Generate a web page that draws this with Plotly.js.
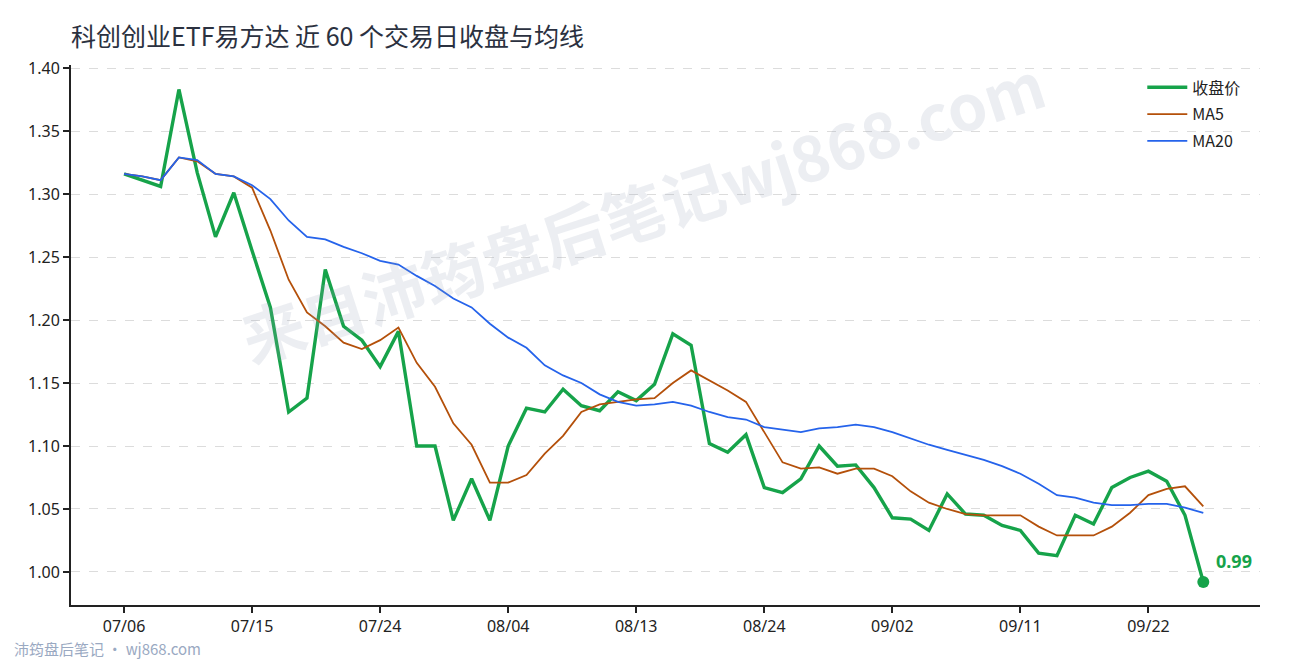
<!DOCTYPE html>
<html>
<head>
<meta charset="utf-8">
<script src="https://cdn.plot.ly/plotly-3.0.1.min.js"></script>
<style>
  html, body { margin: 0; padding: 0; background: #ffffff; }
  #chart { width: 1290px; height: 660px; }
</style>
</head>
<body>
<div id="chart"></div>
<script>
// trading days (MM/DD)
var dates = [
  '07/06','07/07','07/08','07/09','07/10','07/13','07/14','07/15','07/16','07/17',
  '07/20','07/21','07/22','07/23','07/24','07/27','07/28','07/29','07/30','07/31',
  '08/03','08/04','08/05','08/06','08/07','08/10','08/11','08/12','08/13','08/14',
  '08/17','08/18','08/19','08/20','08/21','08/24','08/25','08/26','08/27','08/28',
  '08/31','09/01','09/02','09/03','09/04','09/07','09/08','09/09','09/10','09/11',
  '09/14','09/15','09/16','09/17','09/18','09/21','09/22','09/23','09/24','09/25'
];

var closePrice = [
  1.316, 1.311, 1.306, 1.383, 1.317, 1.266, 1.301, 1.255, 1.210, 1.127,
  1.138, 1.240, 1.195, 1.184, 1.163, 1.191, 1.100, 1.100, 1.041, 1.074,
  1.041, 1.100, 1.130, 1.127, 1.145, 1.132, 1.128, 1.143, 1.136, 1.149,
  1.189, 1.180, 1.102, 1.095, 1.109, 1.067, 1.063, 1.074, 1.100, 1.084,
  1.085, 1.067, 1.043, 1.042, 1.033, 1.062, 1.046, 1.045, 1.037, 1.033,
  1.015, 1.013, 1.045, 1.038, 1.067, 1.075, 1.080, 1.072, 1.045, 0.992
];

var ma5 = [
  1.316, 1.314, 1.311, 1.329, 1.326, 1.316, 1.314, 1.305, 1.271, 1.232,
  1.206, 1.195, 1.182, 1.177, 1.184, 1.194, 1.166, 1.147, 1.118, 1.101,
  1.071, 1.071, 1.077, 1.094, 1.108, 1.127, 1.133, 1.135, 1.137, 1.138,
  1.150, 1.160, 1.152, 1.144, 1.135, 1.111, 1.087, 1.082, 1.083, 1.078,
  1.082, 1.082, 1.076, 1.064, 1.055, 1.050, 1.046, 1.045, 1.045, 1.045,
  1.036, 1.029, 1.029, 1.029, 1.036, 1.047, 1.061, 1.066, 1.068, 1.052
];

var ma20 = [
  1.316, 1.314, 1.311, 1.329, 1.327, 1.316, 1.314, 1.307, 1.296, 1.279,
  1.266, 1.264, 1.258, 1.253, 1.247, 1.244, 1.235, 1.227, 1.217, 1.210,
  1.197, 1.186, 1.178, 1.164, 1.156, 1.150, 1.141, 1.135, 1.132, 1.133,
  1.135, 1.132, 1.127, 1.123, 1.121, 1.115, 1.113, 1.111, 1.114, 1.115,
  1.117, 1.115, 1.111, 1.106, 1.101, 1.097, 1.093, 1.089, 1.084, 1.078,
  1.070, 1.061, 1.059, 1.055, 1.053, 1.053, 1.054, 1.054, 1.051, 1.047
];

var tickDates = ['07/06','07/15','07/24','08/04','08/13','08/24','09/02','09/11','09/22'];

var GREEN = '#16a34a';
var ORANGE = '#b4500a';
var BLUE = '#2563eb';
var FONT = 'Noto Sans, Noto Sans CJK SC, sans-serif';

var lastIdx = dates.length - 1;

var traceClose = {
  x: dates,
  y: closePrice,
  mode: 'lines',
  name: '收盘价',
  legendgroup: 'close',
  line: { color: GREEN, width: 3.4 }
};

var traceMa5 = {
  x: dates,
  y: ma5,
  mode: 'lines',
  name: 'MA5',
  legendgroup: 'ma5',
  line: { color: ORANGE, width: 1.8 }
};

var traceMa20 = {
  x: dates,
  y: ma20,
  mode: 'lines',
  name: 'MA20',
  legendgroup: 'ma20',
  line: { color: BLUE, width: 1.8 }
};

// last close dot
var traceLast = {
  x: [dates[lastIdx]],
  y: [closePrice[lastIdx]],
  mode: 'markers',
  showlegend: false,
  hoverinfo: 'skip',
  marker: { color: GREEN, size: 12 }
};

var layout = {
  width: 1290,
  height: 660,
  margin: { l: 71, r: 30, t: 65, b: 55 },
  paper_bgcolor: '#ffffff',
  plot_bgcolor: '#ffffff',
  font: { family: FONT, size: 16, color: '#222222' },
  title: {
    text: '科创创业ETF易方达 近 60 个交易日收盘与均线',
    x: 0, xref: 'paper', xanchor: 'left',
    y: 0.944, yref: 'container', yanchor: 'middle',
    font: { family: 'Noto Sans CJK SC, sans-serif', size: 25, color: '#2b3140' }
  },
  showlegend: true,
  legend: {
    x: 0.901, y: 0.99, xanchor: 'left', yanchor: 'top',
    bgcolor: 'rgba(0,0,0,0)',
    font: { family: 'Noto Sans CJK SC, sans-serif', size: 16, color: '#222222' },
    tracegroupgap: 3,
    itemwidth: 40
  },
  xaxis: {
    type: 'category',
    categoryorder: 'array',
    categoryarray: dates,
    range: [-2.9, 62.1],
    tickmode: 'array',
    tickvals: tickDates,
    ticktext: tickDates,
    ticks: 'outside',
    ticklen: 6,
    tickwidth: 2,
    tickcolor: '#222222',
    showline: true,
    linecolor: '#222222',
    linewidth: 2,
    showgrid: false,
    zeroline: false,
    tickfont: { size: 16, color: '#222222' }
  },
  yaxis: {
    range: [0.9738, 1.4024],
    tickmode: 'linear',
    tick0: 1.0,
    dtick: 0.05,
    tickformat: '.2f',
    ticks: 'outside',
    ticklen: 6,
    tickwidth: 2,
    tickcolor: '#222222',
    showline: true,
    linecolor: '#222222',
    linewidth: 2,
    showgrid: true,
    gridcolor: '#dcdcdc',
    griddash: 'dash',
    gridwidth: 1,
    zeroline: false,
    tickfont: { size: 16, color: '#222222' }
  },
  annotations: [
    {
      // watermark
      text: '<b>来自沛筠盘后笔记wj868.com</b>',
      xref: 'paper', yref: 'paper',
      x: 0.48, y: 0.735,
      xanchor: 'center', yanchor: 'middle',
      showarrow: false,
      textangle: -18,
      font: { family: 'Noto Sans CJK SC, sans-serif', size: 63, color: 'rgba(150,160,185,0.18)' }
    },
    {
      // last close value
      text: '<b>' + closePrice[lastIdx].toFixed(2) + '</b>',
      x: dates[lastIdx], y: closePrice[lastIdx],
      xref: 'x', yref: 'y',
      showarrow: false,
      xanchor: 'left', yanchor: 'middle',
      xshift: 11, yshift: 21,
      font: { family: 'Noto Sans, sans-serif', size: 18, color: GREEN }
    },
    {
      text: '沛筠盘后笔记 · wj868.com',
      xref: 'paper', yref: 'paper',
      x: -0.05, y: -0.08,
      xanchor: 'left', yanchor: 'middle',
      showarrow: false,
      font: { family: 'Noto Sans CJK SC, sans-serif', size: 15, color: '#9aa9c2' }
    }
  ]
};

Plotly.newPlot('chart', [traceClose, traceMa5, traceMa20, traceLast], layout, { displayModeBar: false, staticPlot: true });
</script>
</body>
</html>
